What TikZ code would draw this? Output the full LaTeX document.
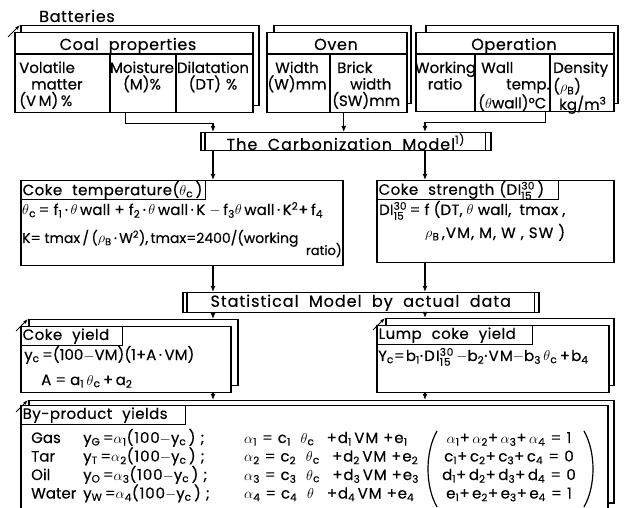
\documentclass[tikz,border=0pt]{standalone}
\usepackage{amsmath}
\usepackage{fontspec}
\setmainfont{Poppins}[FakeBold=0.4]
\usetikzlibrary{arrows.meta,calc,positioning}

\newcommand{\sbs}[1]{\textsubscript{#1}}
\newcommand{\thc}{$\theta$\sbs{c}}
\newcommand{\DIs}{DI$^{\text{30}}_{\text{15}}$}
\newcommand{\track}[1]{\addfontfeature{LetterSpace=#1}}

\tikzset{
  box/.style={draw, line width=1.5pt, fill=white, anchor=north west, inner sep=0pt},
  head/.style={draw, line width=1.3pt, anchor=north west, minimum height=19pt,
               inner xsep=2pt, inner ysep=0pt, text width=#1, align=left,
               font=\fontsize{15}{17}\selectfont\track{3}},
  cell/.style={inner sep=0pt, align=left, text width=#1, anchor=base west},
  ctext/.style={inner sep=0pt, align=center, text width=#1, anchor=base},
  label/.style={inner sep=0pt, anchor=base, font=\fontsize{16}{18}\selectfont\track{4}},
  title/.style={font=\fontsize{16}{18}\selectfont\track{6}},
  eqn/.style={inner sep=0pt, anchor=base west, font=\fontsize{14}{17}\selectfont},
  weqn/.style={eqn, font=\fontsize{15}{17}\selectfont\track{#1}},
  divider/.style={line width=1.2pt},
  link/.style={line width=1.3pt, -{Latex[length=6pt,width=5pt]}},
  tick/.style={line width=0.9pt, -{Latex[length=5pt,width=3.5pt]}}
}

\begin{document}
\begin{tikzpicture}[x=1pt, y=-1pt, font=\fontsize{15}{16.5}\selectfont]
  \useasboundingbox (0,0) rectangle (625,508);

  % columns of the vertical connectors
  \coordinate (lcol) at (213,0);
  \coordinate (rcol) at (425,0);

  %%%%%%%%%%%%%%%%%%%%%%%%%%%%%%%%%%%%%%%%%%%%%%%%%
  % Batteries
  \node[label] (batt) at (77,22) {Batteries};

  % Coal properties
  \node[box, minimum width=238pt, minimum height=80pt] (coalbk) at (20,25) {};
  \node[box, minimum width=238pt, minimum height=80pt] (coal) at (14,32) {};
  \draw[tick] ($(coalbk.north west)+(-12,12)$) -- (coalbk.north west);
  \draw[divider] (14,54) -- (252,54);
  \draw[divider] (110,54) -- (110,112);
  \draw[divider] (176,54) -- (176,112);
  \node[label] (coalh) at (128,50) {Coal\ \ properties};
  \node[cell=88pt] (vm) at (19,73) {Volatile\\\hspace*{12pt}matter\\(V\,M)\,\%};
  \node[ctext=64pt] (moist) at (142,73) {Moisture\\(M)\%};
  \node[ctext=74pt] (dilat) at (213,73) {Dilatation\\(DT) \%};

  % Oven
  \node[box, minimum width=137pt, minimum height=78pt] (ovenbk) at (273,25) {};
  \node[box, minimum width=140pt, minimum height=80pt] (oven) at (266,32) {};
  \draw[divider] (266,54) -- (406,54);
  \draw[divider] (330,54) -- (330,112);
  \node[label] (ovenh) at (336,50) {Oven};
  \node[ctext=62pt] (width) at (297,73) {Width\\(W)mm};
  \node[cell=72pt] (brick) at (332,73) {\hspace*{5pt}Brick\\\hspace*{18pt}width\\(SW)mm};

  % Operation
  \node[box, minimum width=192pt, minimum height=78pt] (operbk) at (425,25) {};
  \node[box, minimum width=198pt, minimum height=79pt] (oper) at (415,32) {};
  \draw[divider] (415,54) -- (613,54);
  \draw[divider] (475,54) -- (475,111);
  \draw[divider] (550,54) -- (550,111);
  \node[label] (operh) at (514,50) {Operation};
  \node[ctext=60pt] (ratio) at (445,73) {Working\\ratio};
  \node[cell=72pt] (wall) at (478,73) {\hspace*{3pt}Wall\\\hspace*{28pt}temp.\\($\theta$wall)°C};
  \node[cell=60pt] (dens) at (553,73) {Density\\($\rho$\sbs{B})\\\hspace*{6pt}kg/m\textsuperscript{3}};

  %%%%%%%%%%%%%%%%%%%%%%%%%%%%%%%%%%%%%%%%%%%%%%%%%
  % Carbonization model
  \node[box, title, minimum width=290pt, minimum height=18pt] (carb) at (200,132)
    {The\ \ Carbonization\ \ Model\textsuperscript{1)}};
  \draw[divider] ([xshift=5pt]carb.north west) -- ([xshift=5pt]carb.south west);
  \draw[divider] ([xshift=-6pt]carb.north east) -- ([xshift=-6pt]carb.south east);

  \coordinate (ovenout) at ([xshift=7pt]oven.south);
  \draw[link] ([xshift=-8pt]coal.south) -- ++(0,10) -| (carb.north -| lcol);
  \draw[link] (ovenout) -- (ovenout |- carb.north);
  \draw[link] ([xshift=31pt]oper.south) -- ++(0,10) -| (carb.north -| rcol);

  %%%%%%%%%%%%%%%%%%%%%%%%%%%%%%%%%%%%%%%%%%%%%%%%%
  % Coke temperature
  \node[box, minimum width=322pt, minimum height=85pt] (cokeT) at (20,180) {};
  \node[head=181pt] (cokeTh) at (cokeT.north west) {Coke\ \ temperature(\thc\,)};
  \node[weqn=1] (tempeq) at (22,215) {\thc\,= f\sbs{1}\,·\,$\theta$\,wall + f\sbs{2}\,·\,$\theta$\,wall\,·\,K $-$\,f\sbs{3}$\theta$\,wall\,·\,K\textsuperscript{2}+\,f\sbs{4}};
  \node[eqn] (keq) at (22,243) {K= tmax\,/\,($\rho$\sbs{B}\,·\,W\textsuperscript{2}),\,tmax=2400/(working};
  \node[eqn, anchor=base east, font=\fontsize{13}{14}\selectfont] (keqr) at (342,255) {ratio)};

  % Coke strength
  \node[box, minimum width=237pt, minimum height=82pt] (cokeS) at (376,180) {};
  \node[head=178pt] (cokeSh) at (cokeS.north west) {Coke\ \ strength (\DIs\,)};
  \node[weqn=1] (dieq) at (379,215) {\DIs\,= f (DT, $\theta$ wall,\ \ tmax ,};
  \node[weqn=7] (dieqb) at (425,238) {$\rho$\sbs{B}\,,VM, M, W\ , SW )};

  \draw[link] (carb.south -| lcol) -- (cokeT.north -| lcol);
  \draw[link] (carb.south -| rcol) -- (cokeS.north -| rcol);

  %%%%%%%%%%%%%%%%%%%%%%%%%%%%%%%%%%%%%%%%%%%%%%%%%
  % Statistical model
  \node[box, title, minimum width=356pt, minimum height=20pt] (stat) at (182,292)
    {Statistical\ \ Model\ \ by\ \ actual\ \ data};
  \draw[divider] ([xshift=5pt]stat.north west) -- ([xshift=5pt]stat.south west);
  \draw[divider] ([xshift=-5pt]stat.north east) -- ([xshift=-5pt]stat.south east);

  \draw[link] (cokeT.south -| lcol) -- (stat.north -| lcol);
  \draw[link] (cokeS.south -| rcol) -- (stat.north -| rcol);

  %%%%%%%%%%%%%%%%%%%%%%%%%%%%%%%%%%%%%%%%%%%%%%%%%
  % Coke yield
  \node[box, minimum width=209pt, minimum height=66pt] (yieldbk) at (28,319) {};
  \node[box, minimum width=210pt, minimum height=66pt] (yield) at (20,326) {};
  \draw[tick] ($(yieldbk.north west)+(-12,12)$) -- (yieldbk.north west);
  \node[head=98pt] (yieldh) at (yield.north west) {Coke\ \ yield};
  \node[weqn=0] (yeq) at (24,360) {y\sbs{c}\,=(100$-$VM)(1+A\,·\,VM)};
  \node[weqn=0] (aeq) at (41,385) {A = a\sbs{1}\,\thc\,+\,a\sbs{2}};

  % Lump coke yield
  \node[box, minimum width=228pt, minimum height=67pt] (lumpbk) at (385,318) {};
  \node[box, minimum width=232pt, minimum height=67pt] (lump) at (376,325) {};
  \draw[tick] ($(lumpbk.north west)+(-12,12)$) -- (lumpbk.north west);
  \node[head=152pt] (lumph) at (lump.north west) {Lump\ \ coke\ \ yield};
  \node[weqn=8] (lumpeq) at (378,361) {Y\sbs{c}=b\sbs{1}·\DIs\,$-$b\sbs{2}·VM$-$b\sbs{3}\,\thc\,+b\sbs{4}};

  \draw[link] (stat.south -| lcol) -- (yieldbk.north -| lcol);
  \draw[link] (stat.south -| rcol) -- (lumpbk.north -| rcol);

  %%%%%%%%%%%%%%%%%%%%%%%%%%%%%%%%%%%%%%%%%%%%%%%%%
  % By-product yields
  \node[box, minimum width=585pt, minimum height=102pt] (bypbk) at (28,400) {};
  \node[box, minimum width=587pt, minimum height=106pt] (byp) at (20,405) {};
  \draw[tick] ($(bypbk.north west)+(-12,12)$) -- (bypbk.north west);
  \node[head=161pt] (byph) at (byp.north west) {By-product\ \ yields};

  \draw[link] (yield.south -| lcol) -- (bypbk.north -| lcol);
  \draw[link] (lump.south -| rcol) -- (bypbk.north -| rcol);

  \foreach \nm/\ys/\idx/\tsub/\lt/\rhs [count=\row] in
      {Gas/G/1/c/$\alpha$/1, Tar/T/2/c/c/0, Oil/O/3/c/d/0, Water/W/4/{}/e/1}
  {
    \pgfmathsetmacro{\yb}{443+18.5*(\row-1)}
    \node[weqn=0] (name\row) at (31,\yb) {\nm};
    \node[weqn=6] (share\row) at (83,\yb) {y\sbs{\ys}\,=$\alpha$\sbs{\idx}(100$-$y\sbs{c}\,)\ ;};
    \node[weqn=6] (alpha\row) at (244,\yb) {$\alpha$\sbs{\idx} = c\sbs{\idx}\ \ $\theta$\sbs{\tsub}\ \ \,+d\sbs{\idx}\,VM\ +e\sbs{\idx}};
    \node[weqn=8, anchor=base] (sum\row) at (509,\yb) {\lt\sbs{1}+\,\lt\sbs{2}+\,\lt\sbs{3}+\,\lt\sbs{4}\ = \rhs};
  }
  % brackets round the sums
  \draw[divider] (437,431) .. controls (425,452) and (425,486) .. (437,507);
  \draw[divider] (584,431) .. controls (596,452) and (596,486) .. (584,507);

\end{tikzpicture}
\end{document}
